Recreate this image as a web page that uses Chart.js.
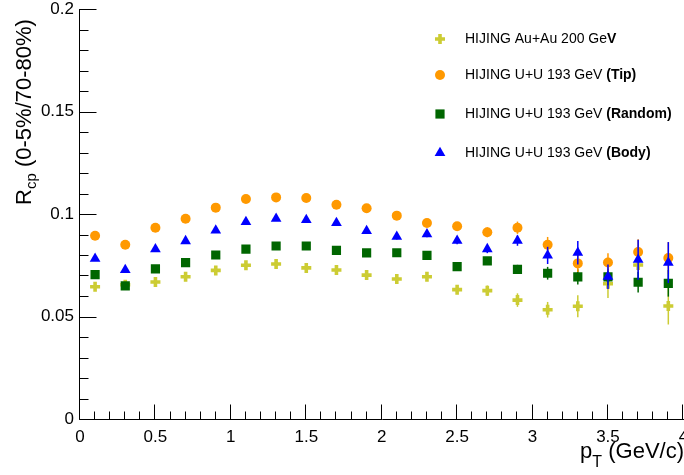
<!DOCTYPE html>
<html><head><meta charset="utf-8">
<script src="https://cdn.jsdelivr.net/npm/chart.js@4.4.0/dist/chart.umd.min.js"></script>
<style>html,body{margin:0;padding:0;background:#fff;overflow:hidden}#wrap{position:relative;width:684px;height:475px;overflow:hidden}</style>
</head><body><div id="wrap"><canvas id="c" width="692" height="475"></canvas></div>
<script>
// ---- data ----
const pT = [0.1,0.3,0.5,0.7,0.9,1.1,1.3,1.5,1.7,1.9,2.1,2.3,2.5,2.7,2.9,3.1,3.3,3.5,3.7,3.9];

const auauY   = [0.0645,0.0655,0.0668,0.0694,0.0725,0.0750,0.0756,0.0737,0.0727,0.0702,0.0683,0.0694,0.0631,0.0626,0.0580,0.0533,0.0550,0.0660,0.0751,0.0551];
const auauErr = [0.0006,0.0006,0.0007,0.0007,0.0008,0.0008,0.0009,0.0010,0.0011,0.0012,0.0014,0.0016,0.0020,0.0025,0.0033,0.0038,0.0054,0.0070,0.0070,0.0090];

const tipY    = [0.0894,0.0850,0.0933,0.0977,0.1031,0.1073,0.1081,0.1078,0.1045,0.1028,0.0992,0.0956,0.0940,0.0911,0.0933,0.0850,0.0759,0.0763,0.0815,0.0785];
const tipErr  = [0.0006,0.0006,0.0007,0.0007,0.0008,0.0008,0.0009,0.0010,0.0011,0.0012,0.0013,0.0015,0.0020,0.0024,0.0030,0.0038,0.0042,0.0045,0.0062,0.0078];

const randY   = [0.0704,0.0649,0.0732,0.0763,0.0800,0.0829,0.0844,0.0844,0.0823,0.0810,0.0811,0.0798,0.0743,0.0771,0.0730,0.0711,0.0693,0.0693,0.0667,0.0662];
const randErr = [0.0005,0.0005,0.0006,0.0006,0.0007,0.0007,0.0008,0.0009,0.0010,0.0011,0.0012,0.0014,0.0016,0.0018,0.0022,0.0031,0.0037,0.0040,0.0050,0.0065];

const bodyY   = [0.0782,0.0727,0.0828,0.0868,0.0920,0.0961,0.0977,0.0971,0.0956,0.0917,0.0889,0.0902,0.0870,0.0829,0.0870,0.0798,0.0811,0.0694,0.0777,0.0763];
const bodyErr = [0.0006,0.0006,0.0007,0.0007,0.0008,0.0009,0.0009,0.0010,0.0011,0.0012,0.0013,0.0015,0.0017,0.0020,0.0025,0.0042,0.0057,0.0060,0.0098,0.0100];

const xTickLabels = ['0','0.5','1','1.5','2','2.5','3','3.5','4'];
const yTickLabels = ['0','0.05','0.1','0.15','0.2'];

const legendNormal = ['HIJING Au+Au 200 Ge','HIJING U+U 193 GeV ','HIJING U+U 193 GeV ','HIJING U+U 193 GeV '];
const legendBold   = ['V','(Tip)','(Random)','(Body)'];

// ---- build ----
const FONT = '"Liberation Sans", Arial, Helvetica, sans-serif';
const COL = {auau:'#cccc33', tip:'#ff9900', rand:'#006600', body:'#0000ff'};

function ds(label, ys, errs, color, style, radius, order, bw){
  return {
    label, order, errs,
    data: pT.map((x,i)=>({x, y: ys[i]})),
    pointStyle: style, pointRadius: radius, pointHoverRadius: radius,
    backgroundColor: color, borderColor: color, pointBorderWidth: bw,
    showLine: false
  };
}
const datasets = [
  ds('auau', auauY, auauErr, COL.auau, 'cross', 5, 3, 3.6),
  ds('tip', tipY, tipErr, COL.tip, 'circle', 5, 1, 0),
  ds('rand', randY, randErr, COL.rand, 'rect', 6.5, 2, 0),
  ds('body', bodyY, bodyErr, COL.body, 'triangle', 6.2, 0, 0)
];
const legendItems = [
  {color: COL.auau, style:'cross', radius:5, bw:3.6},
  {color: COL.tip, style:'circle', radius:5, bw:0},
  {color: COL.rand, style:'rect', radius:6.5, bw:0},
  {color: COL.body, style:'triangle', radius:6.2, bw:0}
];

const errorBars = {
  id:'errorBars',
  beforeDatasetDraw(chart, args){
    const d = chart.data.datasets[args.index];
    const ys = chart.scales.y, ctx = chart.ctx;
    ctx.save();
    ctx.strokeStyle = d.borderColor; ctx.lineWidth = 1.5;
    args.meta.data.forEach((pt,i)=>{
      const v = d.data[i].y, e = d.errs[i];
      const y1 = ys.getPixelForValue(v+e), y2 = ys.getPixelForValue(v-e);
      ctx.beginPath(); ctx.moveTo(pt.x, y1); ctx.lineTo(pt.x, y2); ctx.stroke();
    });
    ctx.restore();
  }
};

const axesDeco = {
  id:'axesDeco',
  afterDraw(chart){
    const ctx = chart.ctx, a = chart.chartArea, xs = chart.scales.x, ys = chart.scales.y;
    ctx.save();
    ctx.strokeStyle = '#000'; ctx.lineWidth = 1;
    const L = Math.round(a.left)-0.5, B = Math.round(a.bottom)+0.5;
    ctx.beginPath(); ctx.moveTo(L, a.top); ctx.lineTo(L, B); ctx.lineTo(a.right+2, B); ctx.stroke();
    // x ticks (inward)
    for (let k=0;k<=40;k++){
      const v = k/10, px = Math.round(xs.getPixelForValue(v))-0.5;
      const len = (k%5===0)?15:8;
      ctx.beginPath(); ctx.moveTo(px, B); ctx.lineTo(px, B-len); ctx.stroke();
    }
    // y ticks (inward)
    for (let k=0;k<=20;k++){
      const v = k/100, py = Math.round(ys.getPixelForValue(v))+0.5;
      const len = (k%5===0)?17:9;
      ctx.beginPath(); ctx.moveTo(L, py); ctx.lineTo(L+len, py); ctx.stroke();
    }
    // legend
    const rowsY = [39,75,114,153];
    legendItems.forEach((it,i)=>{
      ctx.fillStyle = it.color; ctx.strokeStyle = it.color; ctx.lineWidth = it.bw || 1;
      Chart.helpers.drawPoint(ctx, {pointStyle: it.style, radius: it.radius, borderWidth: it.bw, rotation:0}, 440, rowsY[i]);
      ctx.fillStyle = '#000';
      ctx.textBaseline = 'middle'; ctx.textAlign = 'left';
      ctx.font = '14px ' + FONT;
      ctx.fillText(legendNormal[i], 465, rowsY[i]);
      const w = ctx.measureText(legendNormal[i]).width;
      ctx.font = 'bold 14px ' + FONT;
      ctx.fillText(legendBold[i], 465 + w, rowsY[i]);
    });
    // y title
    ctx.fillStyle = '#000';
    ctx.save();
    ctx.translate(31, 112); ctx.rotate(-Math.PI/2);
    ctx.textBaseline='alphabetic'; ctx.textAlign='left';
    const big = '22px ' + FONT, sub = '15px ' + FONT;
    ctx.font = big; const wR = ctx.measureText('R').width;
    ctx.font = sub; const wcp = ctx.measureText('cp').width;
    ctx.font = big; const wRest = ctx.measureText(' (0-5%/70-80%)').width;
    let x0 = -(wR+wcp+wRest)/2;
    ctx.font = big; ctx.fillText('R', x0, 0);
    ctx.font = sub; ctx.fillText('cp', x0+wR, 5);
    ctx.font = big; ctx.fillText(' (0-5%/70-80%)', x0+wR+wcp, 0);
    ctx.restore();
    // x title
    ctx.textBaseline='alphabetic'; ctx.textAlign='left';
    ctx.font = big; const wp = ctx.measureText('p').width, wg = ctx.measureText(' (GeV/c)').width;
    ctx.font = '16px ' + FONT; const wT = ctx.measureText('T').width;
    let xs0 = 684 - (wp+wT+wg);
    ctx.font = big; ctx.fillText('p', xs0, 458);
    ctx.font = '16px ' + FONT; ctx.fillText('T', xs0+wp, 467);
    ctx.font = big; ctx.fillText(' (GeV/c)', xs0+wp+wT, 458);
    ctx.restore();
  }
};

new Chart(document.getElementById('c').getContext('2d'), {
  type:'scatter',
  data:{datasets},
  options:{
    responsive:false, animation:false, devicePixelRatio:1,
    layout:{padding:{top:9,right:0,left:0,bottom:0}},
    plugins:{legend:{display:false}, tooltip:{enabled:false}},
    scales:{
      x:{type:'linear', min:0, max:4,
        grid:{display:false, drawTicks:false}, border:{display:false},
        ticks:{stepSize:0.5, padding:8, color:'#000', autoSkip:false, maxRotation:0,
          font:{family:FONT, size:17}, callback:(v,i)=>xTickLabels[i]},
        afterFit(s){ s.height = 56; s.paddingLeft = 0; s.paddingRight = 0; }
      },
      y:{type:'linear', min:0, max:0.2,
        grid:{display:false, drawTicks:false}, border:{display:false},
        ticks:{stepSize:0.05, padding:6, color:'#000',
          font:{family:FONT, size:17}, callback:(v,i)=>yTickLabels[i]},
        afterFit(s){ s.width = 80; s.paddingTop = 0; s.paddingBottom = 0; }
      }
    }
  },
  plugins:[errorBars, axesDeco]
});
</script>
</body></html>
